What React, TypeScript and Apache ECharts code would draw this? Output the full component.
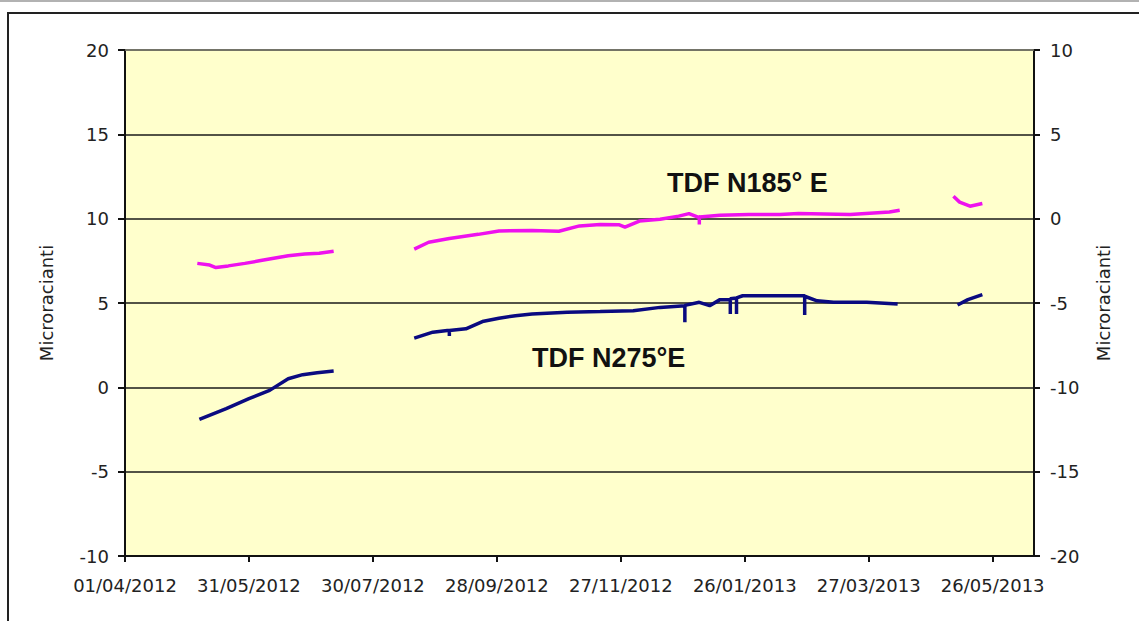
import React, { useEffect, useRef } from "react";
import * as echarts from "echarts";

const START_DATE = "2012-04-01";
const AXIS_DAYS = 440;
const TICK_DAYS = [0, 60, 120, 180, 240, 300, 360, 420];
const LEFT_TICKS = [-10, -5, 0, 5, 10, 15, 20];
const RIGHT_TICKS = [-20, -15, -10, -5, 0, 5, 10];

const pinkName = "TDF N185° E";
const blueName = "TDF N275°E";
const axisTitle = "Microracianti";

const pinkDates = [
  "2012-05-06", "2012-05-12", "2012-05-15", "2012-05-21", "2012-05-29", "2012-06-05",
  "2012-06-12", "2012-06-19", "2012-06-27", "2012-07-04", "2012-07-11",
  "2012-08-01",
  "2012-08-19", "2012-08-26", "2012-09-05", "2012-09-19", "2012-09-29", "2012-10-15",
  "2012-10-28", "2012-11-07", "2012-11-17", "2012-11-26", "2012-11-29", "2012-12-06",
  "2012-12-16", "2012-12-25", "2012-12-30", "2013-01-04", "2013-01-04", "2013-01-04",
  "2013-01-14", "2013-01-28", "2013-02-12", "2013-02-21", "2013-03-18", "2013-04-06",
  "2013-04-11",
  "2013-04-25",
  "2013-05-07", "2013-05-10", "2013-05-15", "2013-05-21",
];
const pinkValues = [
  -2.65, -2.75, -2.9, -2.8, -2.65, -2.5, -2.35, -2.2, -2.1, -2.05, -1.93,
  null,
  -1.81, -1.4, -1.18, -0.93, -0.73, -0.7, -0.75, -0.43, -0.34, -0.36, -0.5, -0.14,
  -0.04, 0.15, 0.3, 0.06, -0.34, 0.1, 0.2, 0.25, 0.25, 0.3, 0.25, 0.4, 0.5,
  null,
  1.33, 0.98, 0.74, 0.9,
];

const blueDates = [
  "2012-05-07", "2012-05-20", "2012-05-31", "2012-06-10", "2012-06-19", "2012-06-26",
  "2012-07-03", "2012-07-11",
  "2012-08-01",
  "2012-08-19", "2012-08-28", "2012-09-04", "2012-09-05", "2012-09-05", "2012-09-05",
  "2012-09-13", "2012-09-21", "2012-09-29", "2012-10-07", "2012-10-15", "2012-11-01",
  "2012-11-17", "2012-12-03", "2012-12-16", "2012-12-28", "2012-12-28", "2012-12-28",
  "2013-01-04", "2013-01-09", "2013-01-14", "2013-01-19", "2013-01-19", "2013-01-19",
  "2013-01-22", "2013-01-22", "2013-01-22", "2013-01-25", "2013-02-06", "2013-02-21",
  "2013-02-24", "2013-02-24", "2013-02-24", "2013-03-02", "2013-03-10", "2013-03-26",
  "2013-04-10",
  "2013-04-25",
  "2013-05-09", "2013-05-14", "2013-05-21",
];
const blueValues = [
  -1.9, -1.26, -0.67, -0.18, 0.51, 0.75, 0.87, 0.97,
  null,
  2.92, 3.27, 3.37, 3.37, 3.05, 3.37,
  3.47, 3.9, 4.1, 4.25, 4.35, 4.45,
  4.49, 4.54, 4.74, 4.84, 3.86, 4.86,
  5.04, 4.84, 5.2, 5.2, 4.35, 5.25,
  5.3, 4.35, 5.3, 5.43, 5.43, 5.43,
  5.43, 4.29, 5.4, 5.13, 5.04, 5.04,
  4.94,
  null,
  4.88, 5.2, 5.5,
];

const DAY = 86400000;
const utc = (s: string) => {
  const [y, m, d] = s.split("-").map(Number);
  return Date.UTC(y, m - 1, d);
};
const toDays = (s: string) => Math.round((utc(s) - utc(START_DATE)) / DAY);
const fmtDay = (v: number) => {
  const dt = new Date(utc(START_DATE) + v * DAY);
  const dd = String(dt.getUTCDate()).padStart(2, "0");
  const mm = String(dt.getUTCMonth() + 1).padStart(2, "0");
  return `${dd}/${mm}/${dt.getUTCFullYear()}`;
};

const FONT = "'DejaVu Sans', sans-serif";
const TXT = "#222";

export default function App() {
  const ref = useRef<HTMLDivElement>(null);
  useEffect(() => {
    if (!ref.current) return;
    const chart = echarts.init(ref.current, null, { renderer: "svg" });
    const pinkData = pinkDates.map((d, i) => [toDays(d), pinkValues[i]]);
    const blueData = blueDates.map((d, i) => [toDays(d), blueValues[i]]);
    chart.setOption({
      animation: false,
      backgroundColor: "#ffffff",
      grid: {
        left: 125,
        right: 105,
        top: 50,
        bottom: 65,
        show: true,
        backgroundColor: "#ffffcc",
        borderWidth: 0,
      },
      xAxis: {
        type: "value",
        min: 0,
        max: AXIS_DAYS,
        interval: 60,
        splitLine: { show: false },
        axisLine: { show: true, onZero: false, lineStyle: { color: "#111", width: 2 } },
        axisTick: {
          show: true,
          length: 6,
          customValues: TICK_DAYS,
          lineStyle: { color: "#111", width: 2 },
        },
        axisLabel: {
          customValues: TICK_DAYS,
          formatter: (v: number) => (TICK_DAYS.includes(v) ? fmtDay(v) : ""),
          color: TXT,
          fontFamily: FONT,
          fontSize: 18,
          margin: 20,
        },
      },
      yAxis: [
        {
          type: "value",
          min: LEFT_TICKS[0],
          max: LEFT_TICKS[LEFT_TICKS.length - 1],
          interval: 5,
          position: "left",
          name: axisTitle,
          nameLocation: "middle",
          nameRotate: 90,
          nameGap: 70,
          nameTextStyle: { color: TXT, fontFamily: FONT, fontSize: 18 },
          axisLine: { show: true, onZero: false, lineStyle: { color: "#111", width: 2 } },
          axisTick: { show: true, length: 7, lineStyle: { color: "#111", width: 2 } },
          axisLabel: { color: TXT, fontFamily: FONT, fontSize: 18, margin: 16 },
          splitLine: { show: true, lineStyle: { color: "#1a1a1a", width: 1.6 } },
        },
        {
          type: "value",
          min: RIGHT_TICKS[0],
          max: RIGHT_TICKS[RIGHT_TICKS.length - 1],
          interval: 5,
          position: "right",
          name: axisTitle,
          nameLocation: "middle",
          nameRotate: 90,
          nameGap: 60,
          nameTextStyle: { color: TXT, fontFamily: FONT, fontSize: 18 },
          axisLine: { show: true, onZero: false, lineStyle: { color: "#111", width: 2 } },
          axisTick: { show: true, length: 6, lineStyle: { color: "#111", width: 2 } },
          axisLabel: { color: TXT, fontFamily: FONT, fontSize: 18, margin: 16 },
          splitLine: { show: false },
        },
      ],
      series: [
        {
          name: pinkName,
          type: "line",
          yAxisIndex: 1,
          data: pinkData,
          showSymbol: false,
          connectNulls: false,
          lineStyle: { color: "#ee11ee", width: 3.5 },
          itemStyle: { color: "#ee11ee" },
        },
        {
          name: blueName,
          type: "line",
          yAxisIndex: 0,
          data: blueData,
          showSymbol: false,
          connectNulls: false,
          lineStyle: { color: "#0a0a80", width: 3.5 },
          itemStyle: { color: "#0a0a80" },
        },
      ],
      graphic: [
        {
          type: "line",
          shape: { x1: 0, y1: 1, x2: 1139, y2: 1 },
          style: { stroke: "#999", lineWidth: 1.5 },
          silent: true,
        },
        {
          type: "rect",
          shape: { x: 8, y: 13, width: 1300, height: 800 },
          style: { fill: "none", stroke: "#222", lineWidth: 2 },
          silent: true,
        },
        {
          type: "line",
          shape: { x1: 125, y1: 50, x2: 1034, y2: 50 },
          style: { stroke: "#7f7f70", lineWidth: 1.6 },
          silent: true,
          z: 10,
        },
        {
          type: "text",
          x: 667,
          y: 183,
          style: {
            text: pinkName,
            fill: "#111",
            font: "bold 27px 'Liberation Sans', Arial, sans-serif",
            verticalAlign: "middle",
            align: "left",
          },
          z: 10,
        },
        {
          type: "text",
          x: 532,
          y: 358,
          style: {
            text: blueName,
            fill: "#111",
            font: "bold 27px 'Liberation Sans', Arial, sans-serif",
            verticalAlign: "middle",
            align: "left",
          },
          z: 10,
        },
      ],
    });
    return () => chart.dispose();
  }, []);
  return (
    <div
      ref={ref}
      style={{ position: "fixed", left: 0, top: 0, width: 1139, height: 621 }}
    />
  );
}
